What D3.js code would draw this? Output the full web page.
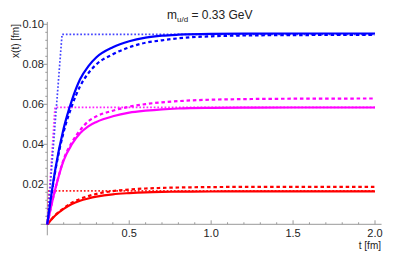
<!DOCTYPE html>
<html>
<head>
<meta charset="utf-8">
<script src="https://cdn.jsdelivr.net/npm/d3@7"></script>
<style>
  body { margin: 0; background: #fff; }
  text { font-family: "Liberation Sans", Arial, sans-serif; }
</style>
</head>
<body>
<div class="chart"></div>
<script>
// values
var tSolid = [0, 0.025, 0.05, 0.1, 0.15, 0.2, 0.25, 0.3, 0.4, 0.5, 0.6, 0.7, 0.8, 1.0, 1.2, 1.5, 2.0];
var blueSolid    = [0, 0.0150, 0.0280, 0.0480, 0.0620, 0.0725, 0.0790, 0.0835, 0.0885, 0.0915, 0.0933, 0.0943, 0.0948, 0.0952, 0.0953, 0.0954, 0.0954];
var blueDashed   = [0, 0.0145, 0.0272, 0.0462, 0.0592, 0.0690, 0.0755, 0.0800, 0.0850, 0.0885, 0.0908, 0.0920, 0.0930, 0.0940, 0.0944, 0.0946, 0.0947];
var magentaSolid = [0, 0.0095, 0.0180, 0.0320, 0.0400, 0.0455, 0.0490, 0.0512, 0.0540, 0.0558, 0.0568, 0.0575, 0.0579, 0.0582, 0.0583, 0.0584, 0.0584];
var magentaDashed= [0, 0.0095, 0.0180, 0.0325, 0.0410, 0.0470, 0.0515, 0.0540, 0.0568, 0.0588, 0.0601, 0.0610, 0.0616, 0.0623, 0.0626, 0.0628, 0.0629];
var redSolid     = [0, 0.0024, 0.0045, 0.0077, 0.0102, 0.0118, 0.0129, 0.0138, 0.0150, 0.0156, 0.0160, 0.0162, 0.0163, 0.0164, 0.0165, 0.0165, 0.0165];
var redDashed    = [0, 0.0025, 0.0047, 0.0081, 0.0108, 0.0127, 0.0141, 0.0152, 0.0166, 0.0174, 0.0179, 0.0182, 0.0184, 0.0186, 0.0187, 0.0187, 0.0187];

// dotted "free streaming" lines: corner points
var blueDotted    = [[0, 0], [0.09, 0.095], [2.0, 0.095]];
var magentaDotted = [[0, 0], [0.047, 0.0585], [2.0, 0.0585]];
var redDotted     = [[0, 0], [0.01, 0.0167], [2.0, 0.0167]];

var xMajor = [0.5, 1.0, 1.5, 2.0];
var yMajor = [0.02, 0.04, 0.06, 0.08, 0.10];

var width = 408, height = 262;

var x = d3.scaleLinear().domain([0, 2]).range([47.3, 375]);
var y = d3.scaleLinear().domain([0, 0.1]).range([224.3, 24.3]);

var svg = d3.select('.chart')
  .append('svg')
    .attr('width', width)
    .attr('height', height);

var axisColor = '#999';

// x axis
var xAxis = svg.append('g')
  .attr('transform', 'translate(0,' + y(0) + ')');
xAxis.append('line')
  .attr('x1', x(-0.04)).attr('x2', x(2.04))
  .attr('stroke', axisColor).attr('stroke-width', 1);
xAxis.selectAll('line.minor').data(d3.range(1, 21).map(function(i) { return i / 10; }))
  .enter().append('line')
    .attr('class', 'minor')
    .attr('x1', function(d) { return x(d); }).attr('x2', function(d) { return x(d); })
    .attr('y1', 0).attr('y2', function(d, i) { return (i + 1) % 5 === 0 ? -4 : -2; })
    .attr('stroke', axisColor);
xAxis.selectAll('text').data(xMajor)
  .enter().append('text')
    .attr('x', function(d) { return x(d); })
    .attr('y', 13)
    .attr('text-anchor', 'middle')
    .attr('font-size', 11)
    .attr('fill', '#222')
    .text(function(d) { return d3.format('.1f')(d); });

// y axis
var yAxis = svg.append('g')
  .attr('transform', 'translate(' + x(0) + ',0)');
yAxis.append('line')
  .attr('y1', y(-0.0055)).attr('y2', y(0.1012))
  .attr('stroke', axisColor).attr('stroke-width', 1);
yAxis.selectAll('line.minor').data(d3.range(1, 26).map(function(i) { return i * 0.004; }))
  .enter().append('line')
    .attr('class', 'minor')
    .attr('y1', function(d) { return y(d); }).attr('y2', function(d) { return y(d); })
    .attr('x1', 0).attr('x2', function(d, i) { return (i + 1) % 5 === 0 ? -4 : -2; })
    .attr('stroke', axisColor);
yAxis.selectAll('text').data(yMajor)
  .enter().append('text')
    .attr('x', -3.5)
    .attr('y', function(d) { return y(d); })
    .attr('dy', '0.35em')
    .attr('text-anchor', 'end')
    .attr('font-size', 11)
    .attr('fill', '#222')
    .text(function(d) { return d3.format('.2f')(d); });

// labels
svg.append('text')
  .attr('transform', 'translate(19,41) rotate(-90)')
  .attr('text-anchor', 'middle')
  .attr('font-size', 10)
  .attr('fill', '#222')
  .text('x(t) [fm]');

svg.append('text')
  .attr('x', 381).attr('y', 249)
  .attr('text-anchor', 'end')
  .attr('font-size', 10)
  .attr('fill', '#222')
  .text('t [fm]');

var title = svg.append('text')
  .attr('x', 167).attr('y', 19)
  .attr('font-size', 12)
  .attr('fill', '#222');
title.append('tspan').text('m');
title.append('tspan').attr('font-size', 8).attr('dy', 3).text('u/d');
title.append('tspan').attr('dy', -3).text(' = 0.33 GeV');

// curves
var plot = svg.append('g');

var lineSmooth = d3.line()
  .x(function(d) { return x(d[0]); })
  .y(function(d) { return y(d[1]); })
  .curve(d3.curveMonotoneX);
var lineStraight = d3.line()
  .x(function(d) { return x(d[0]); })
  .y(function(d) { return y(d[1]); });

function pairs(vals) { return tSolid.map(function(t, i) { return [t, vals[i]]; }); }

var dotted = [
  { pts: redDotted, color: '#ff2222' },
  { pts: magentaDotted, color: '#ff22ff' },
  { pts: blueDotted, color: '#4444ff' }
];
plot.selectAll('path.dotted').data(dotted)
  .enter().append('path')
    .attr('class', 'dotted')
    .attr('d', function(d) { return lineStraight(d.pts); })
    .attr('fill', 'none')
    .attr('stroke', function(d) { return d.color; })
    .attr('stroke-width', 1.7)
    .attr('stroke-dasharray', '1.7,1.9');

var curves = [
  { vals: redDashed, color: '#ff0000', dash: '3.5,2.8' },
  { vals: magentaDashed, color: '#ff00ff', dash: '3.5,2.8' },
  { vals: blueDashed, color: '#0000ff', dash: '3.5,2.8' },
  { vals: redSolid, color: '#ff0000', dash: null },
  { vals: magentaSolid, color: '#ff00ff', dash: null },
  { vals: blueSolid, color: '#0000ff', dash: null }
];
plot.selectAll('path.curve').data(curves)
  .enter().append('path')
    .attr('class', 'curve')
    .attr('d', function(d) { return lineSmooth(pairs(d.vals)); })
    .attr('fill', 'none')
    .attr('stroke', function(d) { return d.color; })
    .attr('stroke-width', 2.2)
    .attr('stroke-dasharray', function(d) { return d.dash; });
</script>
</body>
</html>
